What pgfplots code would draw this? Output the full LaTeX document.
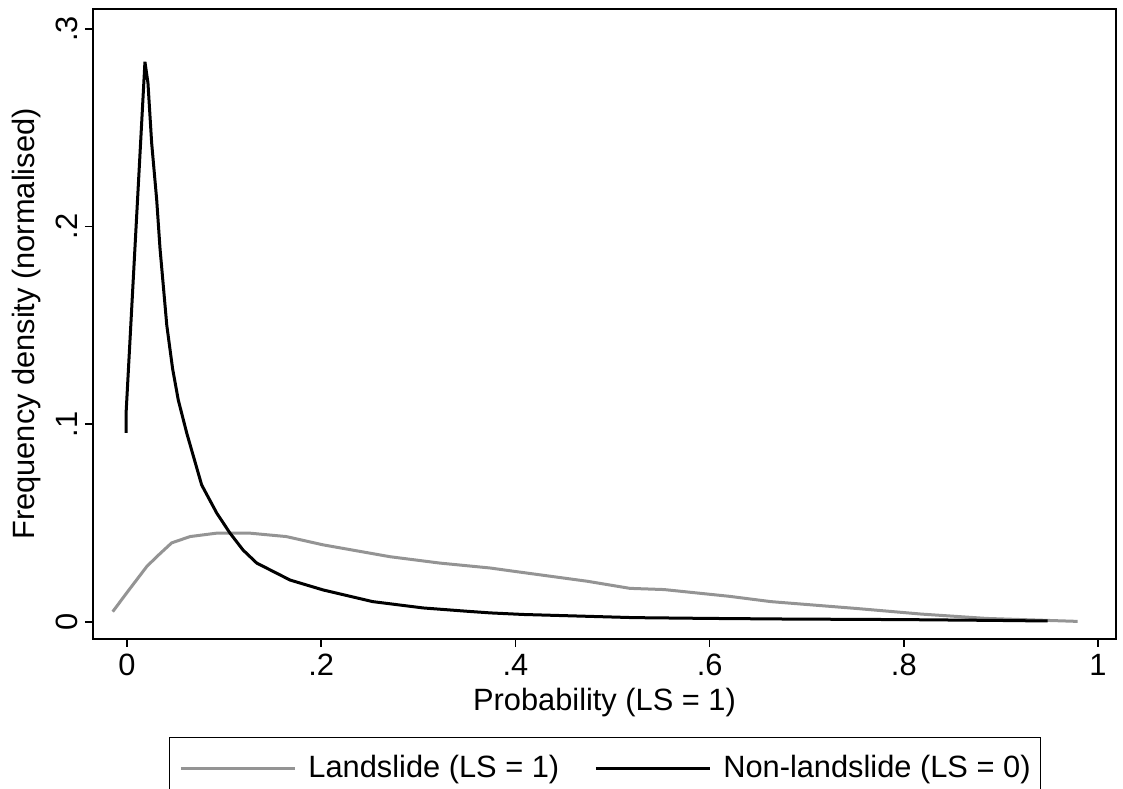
\documentclass[border=0pt]{standalone}
\usepackage{fontspec}
\setmainfont{Liberation Sans}
\usepackage{pgfplots}
\pgfplotsset{compat=1.18}
\usetikzlibrary{calc}
\definecolor{lsgray}{RGB}{148,148,148}
\newcommand{\chartfont}{\fontsize{15.4}{18}\selectfont}

\begin{document}
\begin{tikzpicture}
\begin{axis}[
    name=ax,
    scale only axis,
    width=511.5pt,
    height=315pt,
    xmin=-0.035, xmax=1.0185,
    ymin=-0.0086, ymax=0.310,
    xtick={0,0.2,0.4,0.6,0.8,1},
    xticklabels={0,{.2},{.4},{.6},{.8},1},
    ytick={0,0.1,0.2,0.3},
    yticklabels={0,{.1},{.2},{.3}},
    tick align=outside,
    major tick length=4pt,
    tick style={black, line width=0.8pt},
    axis line style={black, line width=0.9pt},
    xtick pos=bottom, ytick pos=left,
    tick label style={font=\chartfont},
    yticklabel style={rotate=90, anchor=south},
    label style={font=\chartfont},
    xlabel={Probability (LS = 1)},
    ylabel={Frequency density (normalised)},
    xlabel style={at={(axis description cs:0.5,-0.1016)}, anchor=center},
    ylabel style={at={(axis description cs:-0.0645,0.5)}, anchor=center},
    legend columns=2,
    legend style={
        font=\chartfont,
        at={(axis description cs:0.5005,-0.1556)}, anchor=north,
        draw=black, line width=0.6pt,
        inner xsep=5pt, inner ysep=7pt,
        nodes={inner xsep=0pt},
        /tikz/every odd column/.style={column sep=6pt},
        /tikz/every even column/.style={column sep=17.5pt},
    },
    legend image code/.code={\draw[#1] (0pt,0pt) -- (57pt,0pt);},
]
% Landslide (LS = 1)
\addplot[lsgray, line width=1.5pt] coordinates {
    (-0.0147,0.0052) (-0.0003,0.0147) (0.0203,0.0280) (0.0306,0.0330)
    (0.046,0.0400) (0.065,0.0432) (0.092,0.0449) (0.127,0.0449)
    (0.164,0.0432) (0.202,0.0390) (0.271,0.0330) (0.322,0.0298)
    (0.374,0.0273) (0.399,0.0256) (0.474,0.0206) (0.518,0.0170)
    (0.553,0.0164) (0.620,0.0130) (0.663,0.0103) (0.752,0.0068)
    (0.818,0.0040) (0.885,0.0018) (0.979,0.0003)
};
\addlegendentry{Landslide (LS = 1)\hspace{2pt}}
% Non-landslide (LS = 0)
\addplot[black, line width=1.5pt] coordinates {
    (-0.001,0.0956) (-0.001,0.1050) (0.0185,0.2833) (0.0216,0.2726)
    (0.0254,0.2423) (0.0306,0.2135) (0.034,0.1890) (0.041,0.1500)
    (0.047,0.1280) (0.0528,0.1123) (0.0615,0.0956) (0.0769,0.0693)
    (0.0924,0.0551) (0.106,0.0450) (0.1195,0.0364) (0.1336,0.0298)
    (0.168,0.0212) (0.202,0.0162) (0.253,0.0103) (0.305,0.0071)
    (0.348,0.0055) (0.374,0.0046) (0.408,0.0038) (0.465,0.0030)
    (0.522,0.0022) (0.600,0.0018) (0.677,0.0015) (0.800,0.0012)
    (0.893,0.0008) (0.948,0.0005)
};
\addlegendentry{Non-landslide (LS = 0)\hspace{2pt}}
\end{axis}
\pgfresetboundingbox
\path[use as bounding box] ($(ax.south west)+(-46.5pt,-75pt)$) rectangle ($(ax.north east)+(3.5pt,4.5pt)$);
\end{tikzpicture}
\end{document}
